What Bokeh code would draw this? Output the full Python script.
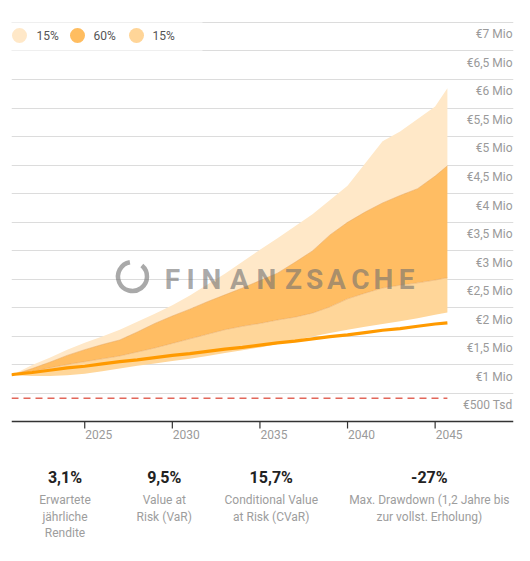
from bokeh.plotting import figure
from bokeh.models import Range1d, FixedTicker, LinearAxis
from bokeh.layouts import column
from bokeh.core.properties import value
from bokeh.embed import file_html
from bokeh.resources import INLINE

FONT = "Roboto"

# ---------------- data (values in € Mio) ----------------
years = [2020.82, 2021, 2022, 2023, 2024, 2025, 2026, 2027, 2028, 2029, 2030,
         2031, 2032, 2033, 2034, 2035, 2036, 2037, 2038, 2039, 2040,
         2041, 2042, 2043, 2044, 2045, 2045.7]
p95 = [1.00, 1.02, 1.17, 1.30, 1.44, 1.56, 1.67, 1.79, 1.93, 2.07, 2.22,
       2.39, 2.58, 2.77, 2.98, 3.19, 3.39, 3.60, 3.81, 4.06, 4.31,
       4.70, 5.09, 5.26, 5.48, 5.70, 6.02]
p80 = [1.00, 1.01, 1.11, 1.22, 1.34, 1.44, 1.53, 1.61, 1.75, 1.90, 2.03,
       2.15, 2.28, 2.40, 2.52, 2.65, 2.78, 2.97, 3.17, 3.45, 3.67,
       3.85, 4.01, 4.14, 4.26, 4.48, 4.66]
p20 = [1.00, 1.00, 1.06, 1.12, 1.18, 1.23, 1.28, 1.33, 1.40, 1.47, 1.55,
       1.63, 1.71, 1.79, 1.85, 1.90, 1.96, 2.01, 2.08, 2.19, 2.33,
       2.43, 2.52, 2.57, 2.61, 2.66, 2.70]
p5 = [1.00, 0.99, 0.98, 0.98, 0.99, 1.02, 1.06, 1.11, 1.16, 1.20, 1.24,
      1.28, 1.33, 1.38, 1.43, 1.48, 1.54, 1.60, 1.67, 1.73, 1.79,
      1.84, 1.89, 1.94, 1.99, 2.05, 2.09]
expected = [1.00, 1.01, 1.04, 1.08, 1.12, 1.15, 1.19, 1.23, 1.26, 1.30, 1.34,
            1.37, 1.41, 1.45, 1.48, 1.52, 1.56, 1.59, 1.63, 1.67, 1.70,
            1.74, 1.78, 1.81, 1.85, 1.89, 1.91]
threshold = 0.59

x_ticks = [2025, 2030, 2035, 2040, 2045]
x_tick_labels = ["2025", "2030", "2035", "2040", "2045"]
y_tick_values = [0.5, 1.0, 1.5, 2.0, 2.5, 3.0, 3.5, 4.0, 4.5, 5.0, 5.5, 6.0, 6.5, 7.0]
y_tick_labels = ["€500 Tsd", "€1 Mio", "€1,5 Mio", "€2 Mio", "€2,5 Mio", "€3 Mio",
                 "€3,5 Mio", "€4 Mio", "€4,5 Mio", "€5 Mio", "€5,5 Mio", "€6 Mio",
                 "€6,5 Mio", "€7 Mio"]
grid_values = [0.6725 + 0.5 * k for k in range(14)]

legend_labels = ["15%", "60%", "15%"]
legend_colors = ["#ffe8c8", "#ffbd60", "#ffd598"]

stat_values = ["3,1%", "9,5%", "15,7%", "-27%"]
stat_labels = [["Erwartete", "jährliche", "Rendite"],
               ["Value at", "Risk (VaR)"],
               ["Conditional Value", "at Risk (CVaR)"],
               ["Max. Drawdown (1,2 Jahre bis", "zur vollst. Erholung)"]]

watermark_letters = list("FINANZSACHE")

# ---------------- geometry helpers (page px -> data) ----------------
X0, XPX = 2020.82, 17.52
Y1PX, YPX = 374.3, 57.1


def xd(px):
    return X0 + (px - 11) / XPX


def yd(py):
    return 1 + (Y1PX - py) / YPX


W = 516
p = figure(width=W, height=445, output_backend="svg", toolbar_location=None,
           x_range=Range1d(X0, xd(513)), y_range=Range1d(yd(428), yd(15)),
           min_border_left=11, min_border_right=3, min_border_top=15,
           min_border_bottom=17, x_axis_location=None, y_axis_location=None)
p.outline_line_color = None
p.background_fill_color = "white"
p.ygrid.ticker = FixedTicker(ticks=grid_values)
p.ygrid.grid_line_color = "#dcdcdc"
p.ygrid.grid_line_width = 1
p.xgrid.visible = False

# x axis baseline and tick marks
y_base = yd(421)
p.line([X0, xd(513)], [y_base, y_base], line_color="#333333", line_width=1.5)
p.segment(x0=x_ticks, y0=[y_base] * len(x_ticks), x1=x_ticks,
          y1=[yd(428.5)] * len(x_ticks), line_color="#333333", line_width=1.2)

# x axis labels, starting at each tick mark
label_ticks = [t + 14 / XPX for t in x_ticks]
ax2 = LinearAxis(ticker=FixedTicker(ticks=label_ticks),
                 major_label_overrides={lt: s for lt, s in zip(label_ticks, x_tick_labels)})
ax2.axis_line_color = None
ax2.major_tick_line_color = None
ax2.minor_tick_line_color = None
ax2.major_tick_in = 0
ax2.major_tick_out = 0
ax2.major_label_standoff = 1
ax2.major_label_text_font = FONT
ax2.major_label_text_font_size = "12px"
ax2.major_label_text_color = "#9a9a9a"
p.add_layout(ax2, "below")

# legend background (lightens grid lines)
p.quad(left=[xd(11)], right=[xd(202)], bottom=[yd(53)], top=[yd(19)],
       fill_color="white", fill_alpha=0.55, line_color=None)

# bands
p.varea(x=years, y1=p80, y2=p95, fill_color="#ffe8c8")
p.varea(x=years, y1=p20, y2=p80, fill_color="#ffbd63")
p.varea(x=years, y1=p5, y2=p20, fill_color="#ffd699")
p.line(years, p80, line_color="#e3a35a", line_alpha=0.6, line_width=0.8)
p.line(years, p20, line_color="#e3a35a", line_alpha=0.6, line_width=0.8)

# threshold
p.line([years[0], years[-1]], [threshold, threshold], line_color="#e2675a",
       line_width=1.5, line_dash="7 5")

# expected path
p.line(years, expected, line_color="#ff9a00", line_width=3.2)

# y tick labels (right side, inside the plot)
p.text(x=[xd(512)] * len(y_tick_values), y=y_tick_values, text=y_tick_labels,
       text_align="right", text_baseline="middle", y_offset=2,
       text_font=value(FONT), text_font_size="12px", text_color="#9a9a9a")

# legend
leg_cx = [19, 77, 136]
leg_tx = [36, 93, 152]
p.scatter(x=[xd(c) for c in leg_cx], y=[yd(35)] * 3, size=15,
          fill_color=legend_colors, line_color=None)
p.text(x=[xd(t) for t in leg_tx], y=[yd(35)] * 3, text=legend_labels,
       text_align="left", text_baseline="middle", text_font=value(FONT),
       text_font_size="12px", text_color="#555555")

# watermark
p.arc(x=[xd(132)], y=[yd(276)], radius=14.5, radius_units="screen",
      start_angle=1.75, end_angle=0.87, line_color="#707070", line_alpha=0.6,
      line_width=4.5)
wm_x = [172, 190, 211, 239, 266, 293, 314, 336, 360, 383, 406]
p.text(x=[xd(v) for v in wm_x], y=[yd(279)] * len(wm_x), text=watermark_letters,
       text_align="center", text_baseline="middle", text_font=value(FONT),
       text_font_style="bold", text_font_size="28px", text_color="#707070",
       text_alpha=0.6)

# ---------------- statistics row ----------------
q = figure(width=W, height=112, output_backend="svg", toolbar_location=None,
           x_range=Range1d(0, W), y_range=Range1d(112, 0), min_border=0,
           x_axis_location=None, y_axis_location=None)
q.outline_line_color = None
q.xgrid.visible = False
q.ygrid.visible = False

centers = [55, 157, 267, 429.5]
q.text(x=centers, y=[32] * 4, text=stat_values, text_align="center",
       text_baseline="middle", text_font=value(FONT), text_font_style="bold",
       text_font_size="16px", text_color="#222222")
line_y = [54, 71, 87]
lx, ly, lt = [], [], []
for c, lines in zip(centers, stat_labels):
    for i, t in enumerate(lines):
        lx.append(c)
        ly.append(line_y[i])
        lt.append(t)
q.text(x=lx, y=ly, text=lt, text_align="center", text_baseline="middle",
       text_font=value(FONT), text_font_size="12px", text_color="#9d9d9d")

layout = column(p, q, spacing=0)
open("out.html", "w").write(file_html(layout, INLINE))
